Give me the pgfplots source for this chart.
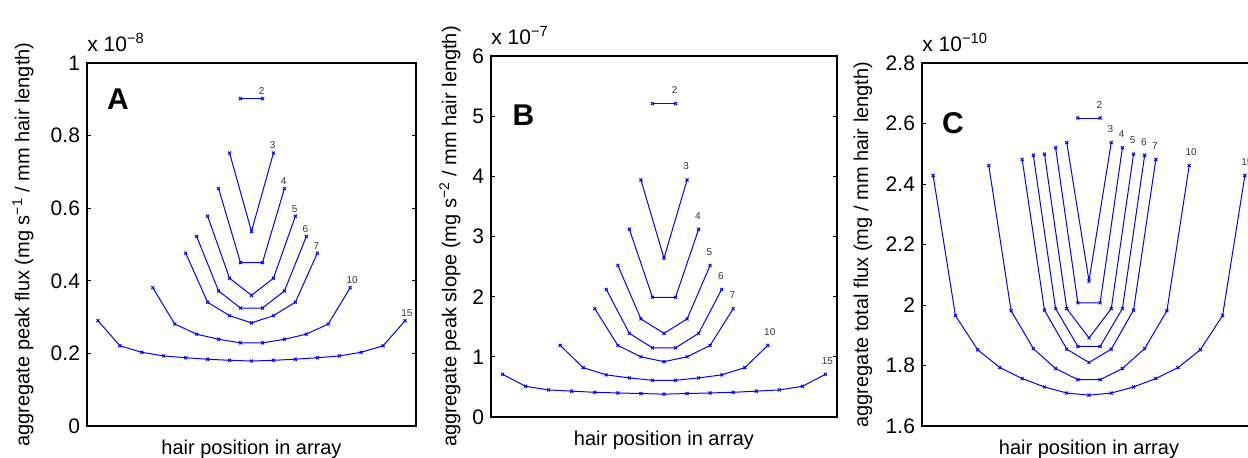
\documentclass[border=0pt]{standalone}
\usepackage{fontspec}
\setmainfont{Liberation Sans}
\usepackage{pgfplots}
\pgfplotsset{compat=1.18}
\begin{document}
\begin{tikzpicture}
\pgfplotsset{
 panel/.style={
  scale only axis, anchor=south west,
  xmin=0.5, xmax=15.5, xtick=\empty,
  axis line style={line width=0.6pt},
  every tick/.style={black, line width=0.5pt},
  major tick length=2pt,
  tick label style={font=\fontsize{10.5}{12}\selectfont},
  /pgf/number format/assume math mode=true,
  label style={font=\fontsize{10.8}{12}\selectfont},
  xlabel={hair position in array},
  every axis x label/.style={at={(axis description cs:0.5,0)}, anchor=north, inner sep=0pt, yshift=-7pt},
  every axis y label/.style={rotate=90, anchor=center},
  clip=false,
 },
 ser/.style={blue, solid, line width=0.5pt, mark=x, mark size=1.05pt, mark options={solid, line width=0.5pt}},
}
\tikzset{
 nlab/.style={anchor=south west, inner sep=0pt, xshift=-2pt, yshift=1.8pt, font=\fontsize{5}{6}\selectfont, text=black!80},
 slab/.style={anchor=base west, inner sep=0pt, yshift=6pt, font=\fontsize{10.5}{12}\selectfont},
 plab/.style={font=\bfseries\fontsize{15}{18}\selectfont},
}
\path[use as bounding box] (0,0) rectangle (624pt,228.5pt);

% ---------------- Panel A ----------------
\begin{axis}[panel, at={(43.5pt,15.5pt)}, width=164.5pt, height=181.5pt,
  ymin=0, ymax=1, ytick={0,0.2,0.4,0.6,0.8,1},
  ylabel={aggregate peak flux (mg s\textsuperscript{−1} / mm hair length)},
  ylabel style={at={(axis description cs:-0.1945,0.5)}}]
\addplot[ser] coordinates {(7.5,0.902) (8.5,0.902)};
\addplot[ser] coordinates {(7,0.752) (8,0.536) (9,0.752)};
\addplot[ser] coordinates {(6.5,0.654) (7.5,0.450) (8.5,0.450) (9.5,0.654)};
\addplot[ser] coordinates {(6,0.578) (7,0.407) (8,0.360) (9,0.407) (10,0.578)};
\addplot[ser] coordinates {(5.5,0.522) (6.5,0.372) (7.5,0.325) (8.5,0.325) (9.5,0.372) (10.5,0.522)};
\addplot[ser] coordinates {(5,0.476) (6,0.341) (7,0.304) (8,0.284) (9,0.304) (10,0.341) (11,0.476)};
\addplot[ser] coordinates {(3.5,0.381) (4.5,0.281) (5.5,0.253) (6.5,0.239) (7.5,0.229) (8.5,0.229) (9.5,0.239) (10.5,0.253) (11.5,0.281) (12.5,0.381)};
\addplot[ser] coordinates {(1,0.290) (2,0.221) (3,0.203) (4,0.193) (5,0.188) (6,0.184) (7,0.181) (8,0.179) (9,0.181) (10,0.184) (11,0.188) (12,0.193) (13,0.203) (14,0.221) (15,0.290)};
\node[nlab] at (axis cs:8.5,0.902) {2};
\node[nlab] at (axis cs:9,0.752) {3};
\node[nlab] at (axis cs:9.5,0.654) {4};
\node[nlab] at (axis cs:10,0.578) {5};
\node[nlab] at (axis cs:10.5,0.522) {6};
\node[nlab] at (axis cs:11,0.476) {7};
\node[nlab] at (axis cs:12.5,0.381) {10};
\node[nlab] at (axis cs:15,0.290) {15};
\node[slab] at (rel axis cs:0,1) {x 10\textsuperscript{−8}};
\node[plab] at (rel axis cs:0.094,0.90) {A};
\end{axis}

% ---------------- Panel B ----------------
\begin{axis}[panel, at={(245.5pt,20pt)}, width=173pt, height=180.5pt,
  ymin=0, ymax=6, ytick={0,1,2,3,4,5,6},
  ylabel={aggregate peak slope (mg s\textsuperscript{−2} / mm hair length)},
  ylabel style={at={(axis description cs:-0.1185,0.5)}}]
\addplot[ser] coordinates {(7.5,5.21) (8.5,5.21)};
\addplot[ser] coordinates {(7,3.94) (8,2.64) (9,3.94)};
\addplot[ser] coordinates {(6.5,3.12) (7.5,1.99) (8.5,1.99) (9.5,3.12)};
\addplot[ser] coordinates {(6,2.52) (7,1.63) (8,1.39) (9,1.63) (10,2.52)};
\addplot[ser] coordinates {(5.5,2.12) (6.5,1.39) (7.5,1.15) (8.5,1.15) (9.5,1.39) (10.5,2.12)};
\addplot[ser] coordinates {(5,1.80) (6,1.19) (7,1.00) (8,0.92) (9,1.00) (10,1.19) (11,1.80)};
\addplot[ser] coordinates {(3.5,1.19) (4.5,0.82) (5.5,0.70) (6.5,0.65) (7.5,0.61) (8.5,0.61) (9.5,0.65) (10.5,0.70) (11.5,0.82) (12.5,1.19)};
\addplot[ser] coordinates {(1,0.71) (2,0.51) (3,0.45) (4,0.43) (5,0.41) (6,0.40) (7,0.39) (8,0.38) (9,0.39) (10,0.40) (11,0.41) (12,0.43) (13,0.45) (14,0.51) (15,0.71)};
\node[nlab, yshift=3pt] at (axis cs:8.5,5.21) {2};
\node[nlab, yshift=3pt] at (axis cs:9,3.94) {3};
\node[nlab, yshift=3pt] at (axis cs:9.5,3.12) {4};
\node[nlab, yshift=3pt] at (axis cs:10,2.52) {5};
\node[nlab, yshift=3pt] at (axis cs:10.5,2.12) {6};
\node[nlab, yshift=3pt] at (axis cs:11,1.80) {7};
\node[nlab, yshift=3pt] at (axis cs:12.5,1.19) {10};
\node[nlab, yshift=3pt] at (axis cs:15,0.71) {15};
\node[slab] at (rel axis cs:0,1) {x 10\textsuperscript{−7}};
\node[plab] at (rel axis cs:0.094,0.837) {B};
\end{axis}

% ---------------- Panel C ----------------
\begin{axis}[panel, at={(461pt,15.5pt)}, width=167pt, height=181.5pt,
  ymin=1.6, ymax=2.8, ytick={1.6,1.8,2,2.2,2.4,2.6,2.8},
  ylabel={aggregate total flux (mg / mm hair length)},
  ylabel style={at={(axis description cs:-0.1766,0.5)}}]
\addplot[ser] coordinates {(7.5,2.618) (8.5,2.618)};
\addplot[ser] coordinates {(7,2.537) (8,2.080) (9,2.537)};
\addplot[ser] coordinates {(6.5,2.520) (7.5,2.007) (8.5,2.007) (9.5,2.520)};
\addplot[ser] coordinates {(6,2.499) (7,1.988) (8,1.891) (9,1.988) (10,2.499)};
\addplot[ser] coordinates {(5.5,2.495) (6.5,1.988) (7.5,1.863) (8.5,1.863) (9.5,1.988) (10.5,2.495)};
\addplot[ser] coordinates {(5,2.481) (6,1.983) (7,1.854) (8,1.810) (9,1.854) (10,1.983) (11,2.481)};
\addplot[ser] coordinates {(3.5,2.461) (4.5,1.981) (5.5,1.856) (6.5,1.790) (7.5,1.753) (8.5,1.753) (9.5,1.790) (10.5,1.856) (11.5,1.981) (12.5,2.461)};
\addplot[ser] coordinates {(1,2.428) (2,1.965) (3,1.852) (4,1.793) (5,1.757) (6,1.729) (7,1.709) (8,1.702) (9,1.709) (10,1.729) (11,1.757) (12,1.793) (13,1.852) (14,1.965) (15,2.428)};
\node[nlab, yshift=3pt] at (axis cs:8.5,2.618) {2};
\node[nlab, yshift=3pt] at (axis cs:9,2.537) {3};
\node[nlab, yshift=3pt] at (axis cs:9.5,2.520) {4};
\node[nlab, yshift=3pt] at (axis cs:10,2.499) {5};
\node[nlab, yshift=3pt] at (axis cs:10.5,2.495) {6};
\node[nlab, yshift=3pt] at (axis cs:11,2.481) {7};
\node[nlab, yshift=3pt] at (axis cs:12.5,2.461) {10};
\node[nlab, yshift=3pt] at (axis cs:15,2.428) {15};
\node[slab] at (rel axis cs:0,1) {x 10\textsuperscript{−10}};
\node[plab] at (rel axis cs:0.093,0.835) {C};
\end{axis}
\end{tikzpicture}
\end{document}
